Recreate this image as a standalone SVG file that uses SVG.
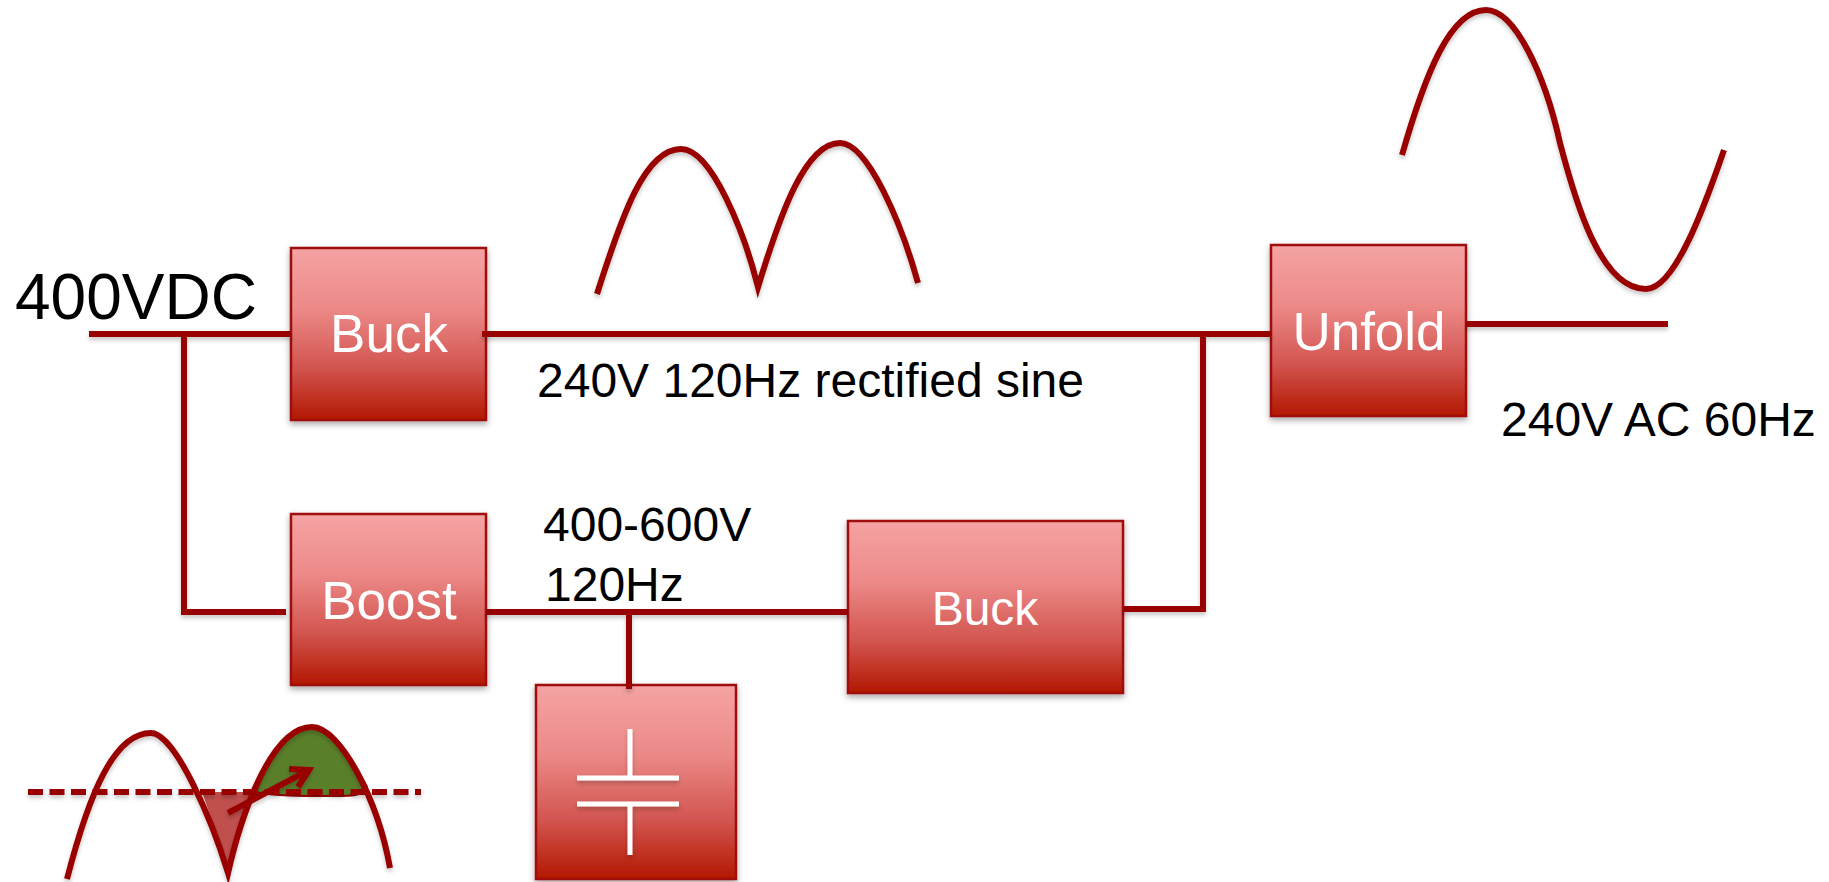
<svg xmlns="http://www.w3.org/2000/svg" width="1829" height="882" viewBox="0 0 1829 882">
<style>
.box{fill:url(#g);stroke:#a00f0f;stroke-width:2.5;filter:url(#sh)}
.w{fill:none;stroke:#990000;stroke-width:6}
.c{fill:none;stroke:#990000;stroke-width:6}
.p{fill:none;stroke:#fff;stroke-width:5}
.s{filter:url(#sl)}
text{font-family:"Liberation Sans",Arial,sans-serif}
.n{fill:#fff;text-anchor:middle;font-size:53px}
.t{fill:#000;font-size:48px}
</style>
<defs>
<linearGradient id="g" x1="0" y1="0" x2="0" y2="1">
<stop offset="0" stop-color="#f5a3a3"/><stop offset="0.35" stop-color="#ec8a88"/><stop offset="0.7" stop-color="#d2544f"/><stop offset="1" stop-color="#b31700"/>
</linearGradient>
<filter id="sh" x="-10%" y="-10%" width="120%" height="120%"><feDropShadow dx="0" dy="3" stdDeviation="3" flood-color="#000" flood-opacity="0.35"/></filter>
<filter id="sl" filterUnits="userSpaceOnUse" x="0" y="0" width="1829" height="882"><feDropShadow dx="0" dy="3" stdDeviation="2" flood-color="#000" flood-opacity="0.22"/></filter>
</defs>
<g id="buck1"><rect class="box" x="291" y="248" width="195" height="172"/><text class="n" x="389" y="352">Buck</text></g>
<g id="boost"><rect class="box" x="291" y="514" width="195" height="171"/><text class="n" x="389" y="619">Boost</text></g>
<g id="buck2"><rect class="box" x="848" y="521" width="275" height="172"/><text class="n" style="font-size:48px" x="985" y="625">Buck</text></g>
<g id="unfold"><rect class="box" x="1271" y="245" width="195" height="171"/><text class="n" x="1369" y="350">Unfold</text></g>
<g id="capacitor"><rect class="box" x="536" y="685" width="200" height="194"/>
<g class="s"><path class="p" d="M630 729V778M577 778H679M577 804H679M630 804V855"/></g></g>
<g id="connectors" class="s">
<path class="c" d="M89 334H291M184 334V612H286M482 334H1271M1203 334V610M1123 609H1206M486 612H848M629 612V689M1466 324H1668"/>
</g>
<g id="rectified-wave" class="s"><path class="w" d="M597 294C622 215 645 149 681 149C712 149 745 235 758 287C780 215 805 143 840 143C868 143 902 225 918 283"/></g>
<g id="ac-wave" class="s"><path class="w" d="M1402 155C1425 75 1450 10 1486 10C1515 10 1545 75 1560 143C1575 200 1600 289 1646 289C1675 289 1705 205 1724 150"/></g>
<g id="ripple">
<path d="M202 792C212 820 222 850 228 873C235 850 245 820 255 792Z" fill="#c0504d"/>
<path d="M255 792C270 750 290 727 312 727C330 727 355 765 367 787C365 797 345 796 330 796C300 796 275 796 255 792Z" fill="#5a7f2a" stroke="#990000" stroke-width="2"/>
<g class="s">
<path d="M28 792H421" fill="none" stroke="#990000" stroke-width="6" stroke-dasharray="15 6.500"/>
<path class="w" d="M67 879C90 790 115 733 151 733C175 733 212 820 228 873C240 820 270 727 312 727C340 727 378 800 390 868"/>
<path class="w" d="M228 813L309 770M289 769L309 770L298 787"/>
</g>
</g>
<g id="labels">
<text x="15" y="319" style="font-size:64px" fill="#000">400VDC</text>
<text class="t" x="537" y="397">240V 120Hz rectified sine</text>
<text class="t" x="1501" y="436">240V AC 60Hz</text>
<text class="t" x="543" y="541">400-600V</text>
<text class="t" x="545" y="601">120Hz</text>
</g>
</svg>
